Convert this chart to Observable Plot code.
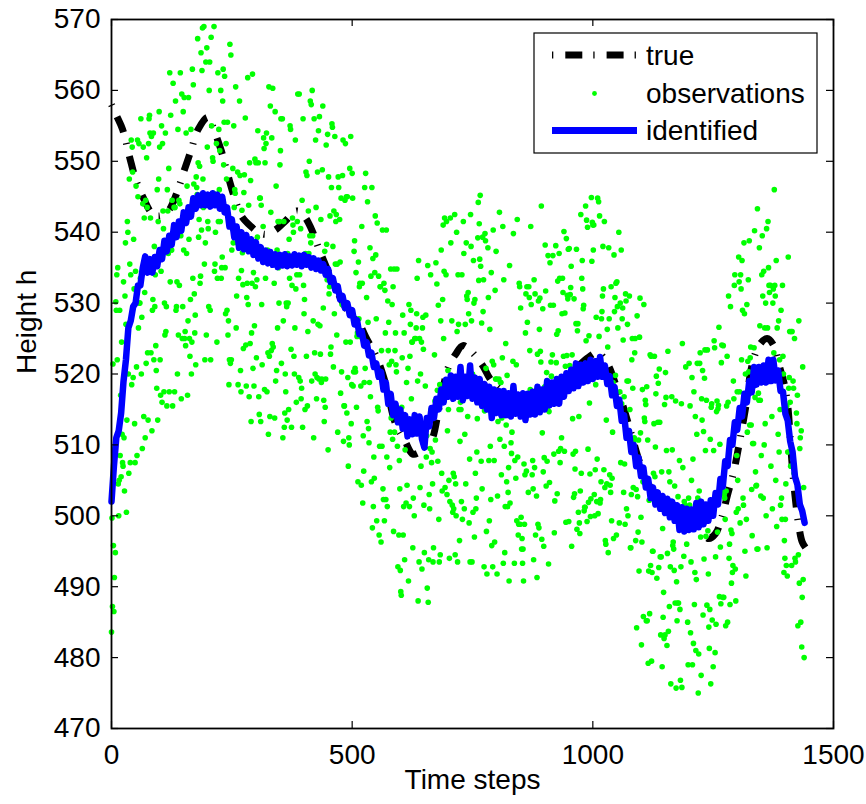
<!DOCTYPE html>
<html><head><meta charset="utf-8">
<script src="https://cdn.jsdelivr.net/npm/d3@7"></script>
<script src="https://cdn.jsdelivr.net/npm/@observablehq/plot@0.6"></script>
<style>body{margin:0;background:#fff;} #chart{width:866px;height:804px;}</style>
</head><body><div id="chart"></div>
<script>
const xTicks = [0, 500, 1000, 1500];
const yTicks = [470, 480, 490, 500, 510, 520, 530, 540, 550, 560, 570];
const xLabel = "Time steps";
const yLabel = "Height h";
const legendLabels = ["true", "observations", "identified"];

// true height: [time step, height]
const trueCurve = [[0,558],[10,556.5],[23,554.5],[38,550.5],[50,547.5],[65,545],[85,542.6],[100,542.3],[118,543],[135,545.4],[150,548.5],[165,551.5],[180,554.5],[200,556.2],[215,554],[228,551.5],[240,548.5],[255,545],[270,542.3],[290,540.8],[305,540],[320,539.7],[340,540.3],[360,541.5],[385,543],[400,542.3],[415,540.5],[430,537.8],[450,534.5],[470,531.5],[490,529],[515,527],[530,525],[550,522.5],[570,518.5],[590,513],[610,510.5],[626,508.7],[645,509.2],[664,510.5],[680,515],[700,521],[715,522.8],[730,524],[750,523],[770,521.3],[790,519],[820,517.3],[850,516.5],[885,516.8],[920,518.2],[960,520.5],[990,522.3],[1010,523],[1030,521.5],[1050,518],[1065,515],[1080,511.5],[1100,507],[1120,504],[1150,502],[1180,501.5],[1205,500],[1225,498.5],[1240,496.8],[1255,497.5],[1268,499.8],[1280,503],[1292,506],[1305,510.5],[1318,515.5],[1330,521],[1345,524],[1362,525],[1376,524],[1388,521],[1398,518.5],[1405,515.5],[1412,509],[1419,503.5],[1427,499],[1435,496.3],[1442,495.5]];

// identified height: [time step, height]
const identified = [[0,502],[5,507],[10,511],[15,512],[20,514.5],[25,519],[30,522],[35,526.5],[40,527.5],[45,529.5],[50,530],[55,532.5],[60,532.5],[65,535],[70,536.6],[75,534.3],[80,536.2],[85,534.3],[90,536.5],[95,535.2],[100,537.5],[105,536.2],[110,538.8],[115,537.3],[120,539.5],[125,538.2],[130,541],[135,539.3],[140,541.5],[145,540.2],[150,542.8],[155,541.3],[160,543.5],[165,542.2],[170,544.8],[175,543.3],[180,545.2],[185,543.8],[190,545.5],[195,543.8],[200,545.3],[205,543.6],[210,545.5],[215,543.8],[220,545.3],[225,543.3],[230,545],[235,542.8],[240,543.5],[245,540.8],[250,541.8],[255,539.3],[260,540.8],[265,537.8],[270,540],[275,537.6],[280,539.6],[285,537.3],[290,539],[295,536.8],[300,538.6],[305,536.3],[310,537.9],[315,535.8],[320,537.4],[325,535.6],[330,537.2],[335,535.4],[340,536.9],[345,535.1],[350,536.8],[355,535.3],[360,536.9],[365,535.2],[370,536.6],[375,535.3],[380,536.9],[385,535.4],[390,536.7],[395,535.2],[400,536.8],[405,535.4],[410,536.5],[415,535],[420,536.3],[425,534.8],[430,536],[435,534.6],[440,535.5],[445,534],[450,534.8],[455,533],[460,533.5],[465,531.8],[470,532.4],[475,530.5],[480,531],[485,529.3],[490,530],[495,528.3],[500,529],[505,527],[510,527.6],[515,525.6],[520,526],[525,524],[530,524.5],[535,522.6],[540,523],[545,521],[550,521.5],[555,519.6],[560,520.3],[565,517.8],[570,518.8],[575,515.8],[580,517.2],[585,514.2],[590,515.8],[595,513.2],[600,515],[605,512.3],[610,514.2],[615,511.2],[620,513.6],[625,511.5],[630,514.2],[635,511.6],[640,514],[645,510.8],[650,509.6],[655,513.8],[660,512.6],[665,515.2],[670,513.8],[675,516.5],[680,515],[685,517.8],[690,516],[695,519.2],[700,516.8],[705,519.8],[710,516.5],[715,519.6],[720,516.8],[725,521],[730,516.3],[735,519.6],[740,516.9],[745,521.2],[750,516.5],[755,519.5],[760,516],[765,519.3],[770,515.5],[775,518.6],[780,515],[785,518.2],[790,513.8],[795,517.8],[800,514.5],[805,517.6],[810,514.2],[815,517.6],[820,514.2],[825,517.3],[830,514],[835,518.3],[840,514.4],[845,517.1],[850,514],[855,517.3],[860,513.5],[865,517.2],[870,514.3],[875,517.5],[880,514.3],[885,518.2],[890,514.6],[895,517.8],[900,515],[905,519],[910,515.6],[915,518.8],[920,515.8],[925,519.3],[930,515.8],[935,519.6],[940,516.8],[945,520.1],[950,517.6],[955,520.6],[960,518],[965,521.5],[970,518.3],[975,521.3],[980,518.8],[985,521.5],[990,519],[995,522],[1000,519.3],[1005,521.8],[1010,519.6],[1015,522.4],[1020,519.6],[1025,521.2],[1030,518.6],[1035,519.7],[1040,517],[1045,518.2],[1050,515.5],[1055,516.4],[1060,513.4],[1065,514.2],[1070,511],[1075,512],[1080,509],[1085,510],[1090,507],[1095,508.2],[1100,505.6],[1105,506.8],[1110,504],[1115,505.2],[1120,502.5],[1125,504],[1130,501.6],[1135,503.3],[1140,501],[1145,502.8],[1150,500.4],[1155,502.4],[1160,499.8],[1165,502],[1170,499.3],[1175,501.5],[1180,498],[1185,501.2],[1190,497.8],[1195,501],[1200,498],[1205,500.9],[1210,498.1],[1215,501.8],[1220,498.4],[1225,502],[1230,498.8],[1235,501.6],[1240,499.3],[1245,502.2],[1250,500],[1255,503.2],[1260,501.6],[1265,505.2],[1270,504.1],[1275,507.7],[1280,507],[1285,510.7],[1290,510],[1295,513.2],[1300,512.1],[1305,515.2],[1310,514],[1315,517.2],[1320,516],[1325,519],[1330,517.4],[1335,521],[1340,518.5],[1345,521],[1350,518.8],[1355,521.2],[1360,518.8],[1365,522],[1370,519],[1375,522],[1380,519.1],[1385,520.5],[1390,517.6],[1395,517.5],[1400,514.4],[1405,513.4],[1410,510.5],[1415,509],[1420,505.5],[1425,504.4],[1430,501.6],[1435,500.7],[1440,499]];

// observed height, one value per time step starting at step 0
const obsHeight = [
483.6,499.7,487.2,521.4,495.8,486.5,491.3,509.6,494.8,530.2,
529,534,522,535,504.5,500,505,529,508.5,517,
505.5,524.5,511.5,507.5,507,533,511,503.5,531,538.5,
527,500.5,513.5,541.5,540,520,506,547.5,535.5,507.5,
534,553,518.5,552,548.5,519.5,539,532,513,507.5,
534.5,546.5,521,508.5,553,545,526.5,552.5,530,530,
533.5,556,520,528,509.5,544,552,514,542,531.5,
511,544.5,521.5,550.5,543.5,523,513.5,552.5,556,556.5,
554,542,523,553.5,512,529,530.5,554,522,538,
529.5,534,524,520.5,518,546,513.5,541.5,547.5,557,
552,522,517,534.5,555,516,552.5,543,540.5,517.5,
530,525.5,554,526,529.5,515.5,546,543,537,549,
517.5,562.5,533,556.5,537.5,537.5,544.5,515.5,561,540,
543.5,517.5,543.5,558.5,529,529.5,533,520,554.5,525.5,
544.5,532.5,544,562.5,539.5,516.5,559.5,525,529.5,557,
537.5,559,525,526,524,554,537,546.5,517,527.5,
559,539,525,522.5,530.5,554.5,520,524.5,563,533.5,
560.8,546.8,531.3,525.8,528.3,521.3,547.8,546.3,545.3,567.3,
549.8,539.3,541.8,549.3,532.8,533.8,565.3,540.3,562.8,568.8,
547.5,543.5,569,535.5,522,538.5,564,525.5,566,552,
541.5,540.5,529.5,560,564,529,522,567.5,555,545,
550.5,550,545.5,569,534.5,535.5,540,544,552.5,524.5,
533.5,562.5,541.5,554.5,546,551.5,541.5,560,533.5,535,
536.5,558.5,563,549.5,555.5,562,535,528.5,552.5,547.5,
529,555.5,525.5,527.5,518.5,522,566.5,521.5,565,522,
537.5,540.5,549,538.5,555,543.5,546,545.5,560.5,526.5,
531,538.5,548.5,518.5,533.5,538.5,558.5,548,520.5,517.5,
534.6,543.1,537.1,532.6,523.6,545.6,548.1,538.1,556.1,524.1,
518.3,530.8,532.8,561.8,529.8,543.8,516.8,549.8,524.3,547.3,
513.3,525.8,532.8,562.3,520.8,534.3,518.3,526.8,550.3,532.3,
549.8,522.3,533.3,539.3,554.3,549.8,516.8,514.3,544.8,544.8,
513.3,543.8,529.8,521.3,536.8,540.8,553.3,551.8,517.8,549.8,
533.5,552.5,554,517.5,537.5,523,511.5,560.5,522.5,514,
557.8,542.8,523.3,553.3,524.3,560.3,523.8,536.3,532.8,513.8,
557,519,546.5,520.5,537.5,526.5,541.5,535,530,541.5,
549.5,551.5,556,521.5,536,556,511,527.5,541.5,512.5,
514.5,520,517.5,530,529.5,513.5,537,530,515,539,
533.5,555,554.5,523.5,512.5,532.5,542,541,540,522.5,
520,526.5,553,532,516,534,541.5,559.5,536.5,519.5,
559.5,534,519,540.5,516.5,518,544.5,512.5,556,532.5,
528.5,530.5,515,537,548.5,522.5,548,515.5,526,543,
537,550,539.5,558.5,538.5,558,519,560,539.5,527.5,
511,556,523,520,553,543.5,516.5,519.5,548.5,527,
554.3,519.3,556.3,526.8,522.8,541.8,518.8,519.3,548.8,557.8,
529.3,516.3,513.3,537.3,515.3,519.3,552.3,538.3,533.3,553.8,
509.3,547.8,531.3,532.3,542.3,522.8,523.8,546.3,555.3,554.8,
538,521,543,528.5,553.5,535.5,541.5,542.5,525.5,535.5,
511.8,547.8,546.3,531.3,541.8,535.8,517.3,544.8,520.3,529.8,
548,553,510.5,515.5,515.5,544.5,552.5,524.5,545,514.5,
545,519.5,507,511,510,549,524.5,553.5,513,518.5,
548.3,544.8,518.3,520.3,537.3,538.8,520.8,520.3,534.3,515.3,
525.3,525.8,504.8,535.8,527.8,532.3,532.8,525.3,518.3,504.3,
540.8,532.8,501.8,511.3,506.3,518.8,546.3,520.8,548.3,524.3,
530.8,513.3,544.3,527.3,512.3,510.3,518.8,537.8,516.8,533.8,
504.8,546.3,498.3,536.3,501.3,508.3,505.3,534.3,542.3,536.8,
527.8,499.3,541.3,515.3,514.8,533.8,497.3,509.8,532.3,532.3,
496.3,523.3,509.8,540.3,503.8,502.3,532.8,499.3,531.8,525.8,
502.3,540.3,508.3,501.3,530.3,523.3,527.3,521.3,506.8,511.8,
534.8,513.8,521.8,529.8,510.8,532.3,497.8,534.8,511.8,523.3,
525.8,521.3,520.3,534.8,509.8,492.8,514.3,497.3,507.8,503.8,
492.3,489.3,488.8,515.3,522.3,528.3,497.3,501.3,525.8,493.8,
509.3,513.8,501.8,518.8,504.3,512.8,520.8,490.8,529.8,501.3,
522.5,527,529,516.5,524.5,524.5,495.5,502.5,512,500,
525,512.5,525,526.5,528.5,533.5,519,488,536,493.5,
525,504,520,507,524.5,492.5,526.5,528,523.5,501.5,
494.8,511.8,518.3,528.3,508.3,511.3,489.8,535.3,487.8,493.8,
503,501,509.5,534,515,507.5,509,504.5,493.5,495.5,
514.2,522.7,516.2,510.7,535.7,515.2,532.7,517.7,507.7,529.7,
499.5,493.5,518.5,494.5,527.5,537.5,506,503.5,530.5,541,
525,534.5,542,504,517.5,534,541.5,503,512,520.5,
515,505,494,502,542,538.5,518,527.5,501.5,500.5,
506,501,505.5,542.5,494.5,504.5,500,540,526,493.5,
534,527,515,496.5,510.5,516,515,502,534,499.5,
519.5,541.5,537,501,511.5,527,504.5,538.5,531,530.5,
514,531.5,528.5,499,508,493.5,542.5,538,527.5,493.5,
520,500.5,536,530,497,530.5,506,501,502.5,509,
513.7,539.2,544.2,533.2,541.2,536.2,545.2,535.2,507.7,527.2,
503.8,539.3,528.8,533.3,492.8,514.8,539.8,538.8,520.8,497.8,
491.8,517.8,537.8,530.8,507.8,499.3,526.3,509.8,502.3,534.3,
495.8,521.8,492.8,540.3,521.3,507.8,496.3,531.8,519.3,537.3,
519.3,491.8,502.8,513.3,514.8,519.3,542.8,510.8,518.8,518.8,
505.8,513.8,522.3,540.8,493.3,533.3,509.8,494.8,501.3,524.3,
512.8,504.8,519.8,501.3,503.3,506.8,490.8,535.3,501.8,515.8,
510.3,508.8,511.8,514.8,521.8,539.8,516.8,493.3,507.8,515.8,
505.3,521.3,499.3,541.8,508.3,497.3,498.8,532.8,532.3,498.8,
529.3,499.8,495.3,496.8,493.3,495.3,490.8,507.3,498.8,505.8,
525.8,531.3,506.3,532.3,527.3,515.8,503.3,532.3,530.8,523.3,
517.8,540.8,529.8,516.8,505.8,507.8,503.8,493.8,533.3,506.8,
531.3,497.3,514.8,502.8,491.3,522.8,498.8,530.3,498.3,526.3,
530.7,523.2,521.7,543.7,496.7,511.7,529.2,506.2,495.7,508.2,
518.2,538.2,531.7,504.2,520.2,507.7,515.2,536.7,493.2,514.7,
504.7,535.7,529.7,521.7,519.7,516.7,522.7,536.7,529.7,508.7,
497.6,502.1,518.6,538.1,521.6,525.6,503.1,533.1,526.1,509.1,
537,533.5,507.5,509.5,519,511,528.5,533.5,531.5,522.5,
540.1,509.1,528.6,521.1,499.1,539.1,522.6,531.1,530.6,537.6,
499.2,537.7,521.2,531.2,532.2,535.2,495.7,522.7,513.7,508.7,
502.6,530.6,503.1,506.6,509.1,527.1,537.6,498.1,526.1,527.1,
500.5,514,499,497.5,503.5,542.5,506,533.5,536,532,
529.2,529.7,500.7,501.2,501.2,543.7,524.7,541.7,499.2,540.7,
509.4,501.9,525.4,515.9,505.9,499.9,502.4,544.9,535.9,541.4,
541,537.5,541,503,500,506.5,518.5,528,502,508,
544.8,500.3,544.3,525.3,542.3,501.8,502.3,504.8,527.8,528.8,
531,538,532,506.5,541.5,504,496.5,496,513.5,504.5,
526.3,523.8,494.8,537.8,527.8,505.8,504.3,503.3,532.3,499.3,
505.3,511.8,518.8,496.8,536.8,528.8,530.8,519.8,532.8,497.3,
533,529.5,526.5,515.5,540,499,517.5,530,507.5,537.5,
515.8,527.8,529.3,524.8,503.3,516.8,507.3,498.8,531.3,530.3,
501,519,527,500,519,512,531,515,495.5,495.5,
503,522,525,518,504,510.5,511,523,525,496.5,
503.7,484.2,528.2,502.7,497.7,510.7,492.2,525.2,530.7,511.7,
499.8,481.8,496.3,517.8,504.8,485.8,529.8,513.8,513.3,516.3,
515.7,485.2,518.2,485.2,510.7,479.2,492.2,502.2,486.2,522.7,
493,522.5,479.5,492,495,495,506,513,522.5,505.5,
509.7,517.2,519.7,491.2,503.2,513.2,518.7,492.7,520.7,513.2,
494.2,483.2,494.2,506.2,478.7,498.2,485.7,489.2,482.7,515.7,
483.2,520.2,516.7,509.2,481.7,494.7,523.2,483.7,506.2,487.2,
504.8,492.8,476.3,500.8,516.8,509.3,495.8,496.3,495.3,492.3,
504.2,487.7,516.2,475.7,490.7,485.2,487.7,502.7,487.7,499.7,
507.8,486.8,476.8,492.8,515.8,475.8,524.3,506.8,498.8,494.3,
502,501.5,499,521,499.5,496,498.5,485,479,502.5,
521.5,501.5,515.5,483.5,493.5,505,519.5,479,508,482,
517.5,487.5,492,514,481,491,511.5,521.5,502.5,475,
480.5,503.5,521.5,523,497,477.5,516.5,513.5,520.5,486,
511.9,493.9,519.4,523.4,509.2,497.1,516.3,487.4,523.4,497.9,
491.8,484.3,481.3,486.8,510.8,476.3,515.3,515.8,485.3,501.3,
478.7,509.2,524.7,523.7,480.7,494.2,484.7,514.7,516.2,497.7,
515.1,515.6,526.6,488.6,510.1,495.6,487.6,521.6,524.1,503.6,
488.5,524,488.5,503,502.5,499.5,484.5,503.5,515.5,522.5,
485,516,531,494,496,487.5,529.5,498,490.5,497.5,
492,493,519,516.5,532.5,534,492.5,488,500.5,508.5,
517.5,505,501,536.5,533,517.5,499,534,532,522,
536,529,502.5,501.5,538.5,528.5,495,520,491.5,499.5,
529.8,511.8,521.8,533.3,520.3,538.8,512.8,522.3,523.8,512.8,
503.7,497.2,510.2,518.2,510.2,523.7,540.2,516.7,506.2,504.2,
504.3,495.3,543.3,495.3,517.3,516.3,537.8,526.8,516.3,502.8,
508.5,534,539.5,531,502.5,534.5,510,526.5,513,530,
500,540.5,495.5,526.5,541.5,535,532.5,531.5,520,532.5,
507,519,514,501,530,532,523,546,532.5,531,
505,536,498.5,526.5,520,511.5,527.5,509,522,515,
501.5,529,502.5,499.5,532.5,522.5,520,492,496.5,494,
499.5,504.5,493,515.5,491.5,509,536.5,518,519.5,526,
516,507,526,493,526,508,519,518,506,525,
494,493.5,505,514.5,513,517,484.5,494.5,527.5,490.5,
509.5,511,485,512,481.5,488.5,521,491,504,480
];

const W = 866, H = 804, mL = 111, mR = 33, mT = 19, mB = 76;
const plotW = W - mL - mR, plotH = H - mT - mB;
const tickLen = 7;
const FONT = "'Liberation Sans', Arial, Helvetica, sans-serif";
const FS = 28;
const trueDash = "1.3,12,17,11";

const obs = obsHeight.map((h, i) => ({t: i, h}));

const chart = Plot.plot({
  width: W, height: H,
  marginLeft: mL, marginRight: mR, marginTop: mT, marginBottom: mB,
  style: {fontFamily: FONT, fontSize: FS + "px", color: "black", background: "white"},
  x: {domain: [0, 1500], ticks: xTicks},
  y: {domain: [470, 570], ticks: yTicks},
  marks: [
    Plot.line(trueCurve, {x: d => d[0], y: d => d[1], stroke: "black", strokeWidth: 7, strokeDasharray: trueDash, strokeLinecap: "butt", curve: "catmull-rom"}),
    Plot.dot(obs, {x: "t", y: "h", r: 2.8, fill: "#00ff00", stroke: "none"}),
    Plot.line(identified, {x: d => d[0], y: d => d[1], stroke: "#0000ff", strokeWidth: 6.5, strokeLinejoin: "round", strokeLinecap: "round"}),
    Plot.frame({stroke: "black", strokeWidth: 1.8}),
    Plot.tickY(yTicks, {y: d => d, insetRight: plotW - tickLen, stroke: "black", strokeWidth: 1.2}),
    Plot.tickY(yTicks, {y: d => d, insetLeft: plotW - tickLen, stroke: "black", strokeWidth: 1.2}),
    Plot.tickX(xTicks, {x: d => d, insetTop: plotH - tickLen, stroke: "black", strokeWidth: 1.2}),
    Plot.tickX(xTicks, {x: d => d, insetBottom: plotH - tickLen, stroke: "black", strokeWidth: 1.2}),
    Plot.axisY(yTicks, {anchor: "left", tickSize: 0, tickPadding: 11, fontSize: FS, label: null, tickFormat: d => String(d)}),
    Plot.axisX(xTicks, {anchor: "bottom", tickSize: 0, tickPadding: 16, fontSize: FS, label: null, tickFormat: d => String(d)}),
    Plot.text([xLabel], {text: d => d, frameAnchor: "bottom", dy: 60, fontSize: FS, fill: "black"}),
    Plot.text([yLabel], {text: d => d, frameAnchor: "left", dx: -84, rotate: -90, fontSize: FS, fill: "black"})
  ]
});
document.getElementById("chart").appendChild(chart);

// legend box inside the axes (top-right)
const svg = d3.select(chart);
const lw = 283, lh = 120;
const lx = W - mR - 16 - lw, ly = mT + 14;
const lg = svg.append("g").attr("font-family", FONT).attr("font-size", FS).attr("text-anchor", "start");
lg.append("rect").attr("x", lx).attr("y", ly).attr("width", lw).attr("height", lh)
  .attr("fill", "white").attr("stroke", "black").attr("stroke-width", 1.2);
const sx0 = lx + 18, sx1 = lx + 103, tx = lx + 112;
const rows = [ly + 22, ly + 60.5, ly + 97.5];
lg.append("line").attr("x1", sx0).attr("x2", sx1).attr("y1", rows[0]).attr("y2", rows[0])
  .attr("stroke", "black").attr("stroke-width", 7).attr("stroke-dasharray", trueDash);
lg.append("circle").attr("cx", (sx0 + sx1) / 2).attr("cy", rows[1]).attr("r", 2.4).attr("fill", "#00ff00");
lg.append("line").attr("x1", sx0).attr("x2", sx1).attr("y1", rows[2]).attr("y2", rows[2])
  .attr("stroke", "#0000ff").attr("stroke-width", 7);
legendLabels.forEach((s, i) => {
  lg.append("text").attr("x", tx).attr("y", rows[i]).attr("dy", "0.35em")
    .attr("text-anchor", "start").attr("fill", "black").text(s);
});
</script>
</body></html>
